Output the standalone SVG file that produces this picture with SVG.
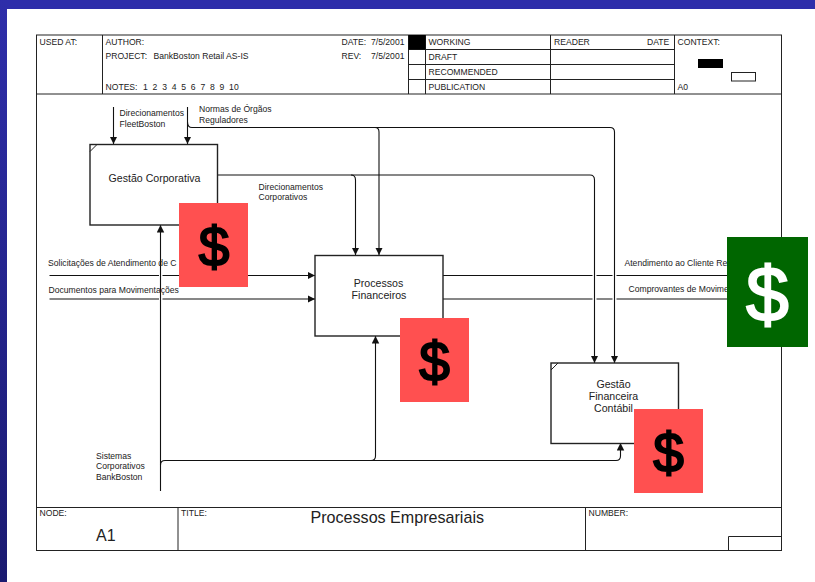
<svg xmlns="http://www.w3.org/2000/svg" width="815" height="582" viewBox="0 0 815 582">
<style>
text{font-family:"Liberation Sans",Arial,sans-serif;fill:#222}
.t{font-size:8.6px}
.l{font-size:8.6px}
.n{font-size:10.6px;text-anchor:middle}
.f{fill:none;stroke:#222;stroke-width:1}
.c{fill:none;stroke:#111;stroke-width:1.1}
.b{fill:#fff;stroke:#222;stroke-width:1.4}
.r{fill:#ff5050}
text.d{text-anchor:middle;fill:#000;stroke:#000;stroke-width:2px;font-size:55px}
text.w{text-anchor:middle;fill:#fff;stroke:#fff;stroke-width:2px;font-size:77px}
</style>
<defs>
<linearGradient id="bg" x1="0" y1="0" x2="0" y2="1"><stop offset="0" stop-color="#2e2eaa"/><stop offset="1" stop-color="#1a1a70"/></linearGradient>
<marker id="a" markerUnits="userSpaceOnUse" markerWidth="8" markerHeight="9" refX="7.5" refY="3.75" orient="auto"><path d="M0 0L7.5 3.75L0 7.5z" fill="#111"/></marker>
</defs>
<rect width="815" height="582" fill="#fff"/>
<rect width="815" height="9" fill="#2e2eaa"/>
<rect y="0" width="7" height="582" fill="url(#bg)"/>

<g id="form">
<rect class="f" x="36.5" y="35" width="745" height="515.5"/>
<path class="f" d="M36.5 94H781.5M102.5 35V94M408.5 35V94M425.5 35V94M550.5 35V94M674.5 35V94M408.5 49.5H674.5M408.5 64.5H674.5M408.5 79.5H674.5M36.5 507.5H781.5M178 507.5V550.5M585.5 507.5V550.5M728.5 550.5V536.5H781.5"/>
<rect x="408.5" y="35" width="17" height="14.5" fill="#000"/>
<rect x="698" y="59" width="25" height="9" fill="#000"/>
<rect class="f" x="731.5" y="72.5" width="24" height="8.5"/>
<text class="t" x="39.500" y="45">USED AT:</text>
<text class="t" x="105.500" y="45">AUTHOR:</text>
<text class="t" x="105.500" y="59">PROJECT:</text>
<text class="t" x="153.500" y="59">BankBoston Retail AS-IS</text>
<text class="t" x="105.500" y="90">NOTES:</text>
<text class="t" x="143" y="90" word-spacing="2.4">1 2 3 4 5 6 7 8 9 10</text>
<text class="t" x="341.500" y="45">DATE:</text><text class="t" x="371" y="45">7/5/2001</text>
<text class="t" x="341.500" y="59">REV:</text><text class="t" x="371" y="59">7/5/2001</text>
<text class="t" x="428.500" y="45">WORKING</text>
<text class="t" x="428.500" y="60">DRAFT</text>
<text class="t" x="428.500" y="75">RECOMMENDED</text>
<text class="t" x="428.500" y="90">PUBLICATION</text>
<text class="t" x="554" y="45">READER</text>
<text class="t" x="647" y="45">DATE</text>
<text class="t" x="677.500" y="45">CONTEXT:</text>
<text class="t" x="677.500" y="90">A0</text>
<text class="t" x="39.500" y="516">NODE:</text>
<text class="t" x="181" y="516">TITLE:</text>
<text class="t" x="588.500" y="516">NUMBER:</text>
<text x="96" y="541" font-size="16">A1</text>
<text x="310.500" y="523" font-size="16.100">Processos Empresariais</text>
</g>

<g id="connectors">
<path class="c" marker-end="url(#a)" d="M113.500 107V144"/>
<path class="c" marker-end="url(#a)" d="M187.500 107V144"/>
<path class="c" marker-end="url(#a)" d="M187.500 122Q187.500 127.500 192 127.500H375Q379 127.500 379 132V255"/>
<path class="c" marker-end="url(#a)" d="M375 127.500H610Q614.500 127.500 614.500 132V363"/>
<path class="c" marker-end="url(#a)" d="M217.500 175H351Q355.500 175 355.500 180V255"/>
<path class="c" marker-end="url(#a)" d="M351 175H590Q594.500 175 594.500 180V363"/>
<path class="c" marker-end="url(#a)" d="M160.500 491V225"/>
<path class="c" marker-end="url(#a)" d="M160.500 465Q160.500 460.500 165 460.500H371Q375.500 460.500 375.500 456V336"/>
<path class="c" marker-end="url(#a)" d="M371 460.500H616Q620.500 460.500 620.500 456V443"/>
<path class="c" marker-end="url(#a)" d="M49.500 275.500H159M162.500 275.500H315"/>
<path class="c" marker-end="url(#a)" d="M49.500 299H159M162.500 299H315"/>
<path class="c" d="M443 275.500H592.500M596.500 275.500H612.500M616.500 275.500H730"/>
<path class="c" d="M443 299H592.500M596.500 299H612.500M616.500 299H730"/>
<text class="l" x="119.500" y="116">Direcionamentos</text>
<text class="l" x="119.500" y="127">FleetBoston</text>
<text class="l" x="199" y="112">Normas de Órgãos</text>
<text class="l" x="199" y="123">Reguladores</text>
<text class="l" x="258.500" y="190">Direcionamentos</text>
<text class="l" x="258.500" y="200">Corporativos</text>
<text class="l" x="48" y="266">Solicitações de Atendimento de C</text>
<text class="l" x="48.500" y="293">Documentos para Movimentações</text>
<text class="l" x="624.500" y="266">Atendimento ao Cliente Re</text>
<text class="l" x="628.500" y="292">Comprovantes de Movime</text>
<text class="l" x="96" y="459">Sistemas</text>
<text class="l" x="96" y="469">Corporativos</text>
<text class="l" x="96" y="480">BankBoston</text>
</g>

<g id="node-gestao-corporativa">
<rect class="b" x="90" y="144.500" width="127.500" height="80.500"/>
<path class="f" d="M90 151.500L97 144.500"/>
<text class="n" x="154.500" y="182">Gestão Corporativa</text>
</g>
<g id="node-processos-financeiros">
<rect class="b" x="315" y="255.500" width="128" height="80.500"/>
<text class="n" x="378.500" y="287">Processos</text>
<text class="n" x="379" y="299">Financeiros</text>
</g>
<g id="node-gestao-financeira">
<rect class="b" x="551" y="363" width="127.500" height="80.500"/>
<path class="f" d="M551 370L558 363"/>
<text class="n" x="613.500" y="388">Gestão</text>
<text class="n" x="613.500" y="400">Financeira</text>
<text class="n" x="613.500" y="412">Contábil</text>
</g>

<g id="cost-1"><rect class="r" x="179" y="203" width="69" height="84"/><text class="d" x="214" y="266">$</text></g>
<g id="cost-2"><rect class="r" x="400" y="318" width="69" height="84"/><text class="d" x="434.500" y="381">$</text></g>
<g id="cost-3"><rect class="r" x="634" y="409" width="69" height="84"/><text class="d" x="668.500" y="472">$</text></g>
<g id="revenue"><rect x="727" y="237" width="81" height="110" fill="#006600"/><text class="w" x="767.500" y="321">$</text></g>
</svg>
